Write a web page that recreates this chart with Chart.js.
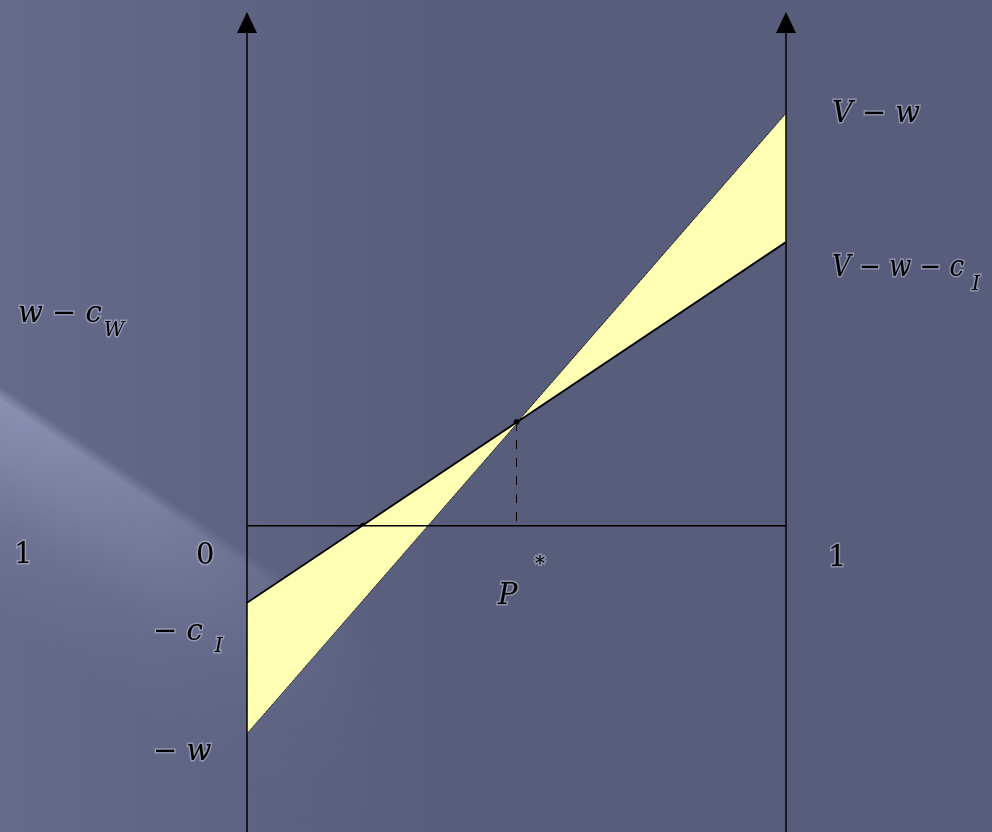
<!DOCTYPE html>
<html>
<head>
<meta charset="utf-8">
<script src="https://cdn.jsdelivr.net/npm/chart.js"></script>
<style>
  html, body { margin: 0; padding: 0; background: #585d7c; }
  canvas { display: block; }
</style>
</head>
<body>
<canvas id="payoff-chart" width="992" height="832"></canvas>
<script>
  // values (y axis in arbitrary units, 0 = horizontal axis)
  const xVals = [0, 1];
  const costLine = [-0.78, 2.87];   // -c_I  ->  V - w - c_I
  const wageLine = [-2.10, 4.17];   // -w    ->  V - w
  const pStar = [0.5, 1.05];        // crossing point of the two lines
  const zeroCross = [0.215, 0];     // where the -c_I line meets the axis
  const yRange = [-3.05, 5.27];

  const rightLabels = ["V − w", "V − w − c"];
  const leftLabels = ["− c", "− w"];

  const SERIF = "DejaVu Serif";

  const payoffCtx = document.getElementById("payoff-chart").getContext("2d");

  function txt(ctx, s, x, y, size, italic, maxW) {
    ctx.font = (italic ? "italic " : "") + size + "px " + SERIF;
    ctx.lineWidth = 3;
    ctx.strokeStyle = "rgba(190,195,215,0.5)";
    ctx.fillStyle = "#000";
    if (maxW) {
      ctx.strokeText(s, x, y, maxW);
      ctx.fillText(s, x, y, maxW);
      return Math.min(maxW, ctx.measureText(s).width);
    }
    ctx.strokeText(s, x, y);
    ctx.fillText(s, x, y);
    return ctx.measureText(s).width;
  }

  // slide-like background: base colour, lighter left side, diagonal light band
  const backdrop = {
    id: "backdrop",
    beforeDraw(chart) {
      const ctx = chart.ctx;
      const W = chart.width, H = chart.height;
      ctx.save();
      ctx.fillStyle = "#585d7c";
      ctx.fillRect(0, 0, W, H);
      let g = ctx.createLinearGradient(0, 0, 450, 0);
      g.addColorStop(0, "rgba(150,155,190,0.22)");
      g.addColorStop(1, "rgba(150,155,190,0)");
      ctx.fillStyle = g;
      ctx.fillRect(0, 0, W, H);

      const off = document.createElement("canvas");
      off.width = W; off.height = H;
      const o = off.getContext("2d");
      const nx = -0.559, ny = 0.829, cx = 0, cy = 395;
      const b = o.createLinearGradient(cx - 8 * nx, cy - 8 * ny, cx + 190 * nx, cy + 190 * ny);
      b.addColorStop(0, "rgba(165,170,205,0)");
      b.addColorStop(0.06, "rgba(165,170,205,0.6)");
      b.addColorStop(0.3, "rgba(160,165,200,0.45)");
      b.addColorStop(0.6, "rgba(150,155,190,0.18)");
      b.addColorStop(1, "rgba(150,155,190,0)");
      o.fillStyle = b;
      o.fillRect(0, 0, W, H);
      o.globalCompositeOperation = "destination-in";
      const f = o.createLinearGradient(0, 0, 380, 0);
      f.addColorStop(0, "rgba(0,0,0,1)");
      f.addColorStop(0.4, "rgba(0,0,0,0.65)");
      f.addColorStop(0.75, "rgba(0,0,0,0.2)");
      f.addColorStop(1, "rgba(0,0,0,0)");
      o.fillStyle = f;
      o.fillRect(0, 0, W, H);
      ctx.drawImage(off, 0, 0);
      ctx.restore();
    }
  };

  const drawing = {
    id: "drawing",
    afterDatasetsDraw(chart) {
      const ctx = chart.ctx;
      const xs = chart.scales.x, ys = chart.scales.y;
      const x0 = xs.getPixelForValue(0), x1 = xs.getPixelForValue(1);
      const y0 = ys.getPixelForValue(0);
      ctx.save();
      ctx.strokeStyle = "#000";
      ctx.fillStyle = "#000";
      ctx.lineWidth = 1.5;
      // vertical axes with arrows
      [x0, x1].forEach(px => {
        ctx.beginPath();
        ctx.moveTo(px, 30);
        ctx.lineTo(px, 832);
        ctx.stroke();
        ctx.beginPath();
        ctx.moveTo(px, 12);
        ctx.lineTo(px - 10, 33);
        ctx.lineTo(px + 10, 33);
        ctx.closePath();
        ctx.fill();
      });
      // horizontal axis
      ctx.beginPath();
      ctx.moveTo(x0, y0);
      ctx.lineTo(x1, y0);
      ctx.stroke();
      // dashed drop line from p*
      ctx.lineWidth = 1;
      ctx.setLineDash([9, 9]);
      ctx.beginPath();
      ctx.moveTo(xs.getPixelForValue(pStar[0]), ys.getPixelForValue(pStar[1]));
      ctx.lineTo(xs.getPixelForValue(pStar[0]), y0);
      ctx.stroke();
      ctx.setLineDash([]);

      // labels
      ctx.textBaseline = "alphabetic";
      ctx.textAlign = "left";
      txt(ctx, rightLabels[0], 832, 122, 29, true, 88);
      let w = txt(ctx, rightLabels[1], 832, 276, 29, true, 132);
      txt(ctx, "I", 832 + w + 8, 290, 20, true);
      w = txt(ctx, "w − c", 18, 322, 29, true, 84);
      txt(ctx, "W", 18 + w + 2, 336, 20, true);
      w = txt(ctx, leftLabels[0], 153, 640, 29, true);
      txt(ctx, "I", 153 + w + 12, 652, 20, true);
      txt(ctx, leftLabels[1], 153, 760, 29, true);
      txt(ctx, "1", 14, 563, 29, false);
      txt(ctx, "0", 196, 564, 29, false);
      txt(ctx, "1", 828, 566, 29, false);
      txt(ctx, "P", 498, 604, 29, true);
      txt(ctx, "*", 535, 570, 20, false);
      ctx.restore();
    }
  };

  const payoffChart = new Chart(payoffCtx, {
    type: "line",
    data: {
      labels: xVals,
      datasets: [
        {
          label: "cost",
          data: xVals.map((x, i) => ({ x: x, y: costLine[i] })),
          borderColor: "#000",
          borderWidth: 1.8,
          backgroundColor: "rgba(255,255,180,1)",
          fill: { target: 1 },
          pointRadius: 0,
          tension: 0,
        },
        {
          label: "wage",
          data: xVals.map((x, i) => ({ x: x, y: wageLine[i] })),
          borderColor: "#111",
          borderWidth: 1.2,
          borderDash: [3, 1],
          fill: false,
          pointRadius: 0,
          tension: 0,
        },
        {
          label: "points",
          data: [{ x: pStar[0], y: pStar[1] }, { x: zeroCross[0], y: zeroCross[1] }],
          showLine: false,
          pointRadius: 2.5,
          pointBackgroundColor: "#000",
          pointBorderColor: "#000",
          fill: false,
        },
      ],
    },
    options: {
      responsive: false,
      animation: false,
      layout: { padding: { left: 247, right: 206, top: 0, bottom: 0 } },
      plugins: { legend: { display: false }, tooltip: { enabled: false } },
      scales: {
        x: { type: "linear", min: 0, max: 1, display: false },
        y: { type: "linear", min: yRange[0], max: yRange[1], display: false },
      },
    },
    plugins: [backdrop, drawing],
  });
</script>
</body>
</html>
